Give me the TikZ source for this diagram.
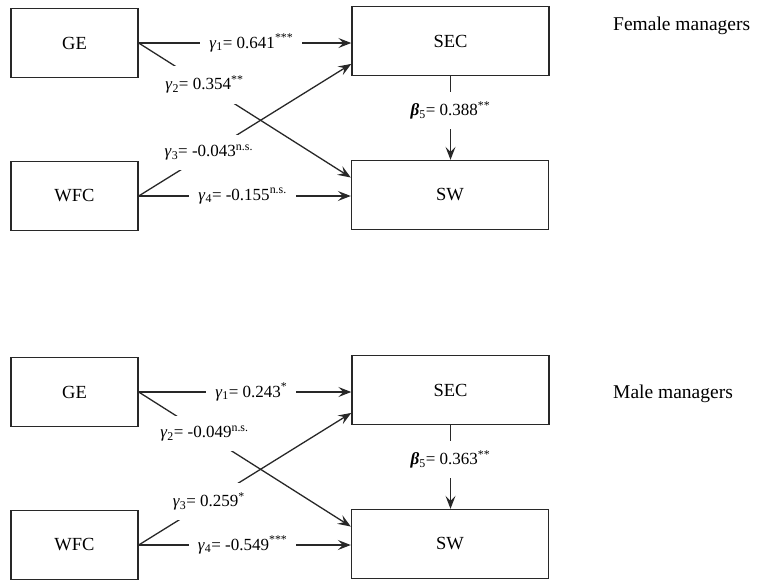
\documentclass[tikz,border=0pt]{standalone}
\usepackage{fontspec}
\setmainfont{Liberation Serif}
\usetikzlibrary{arrows.meta}
\definecolor{inkgray}{RGB}{40,40,40}

\begin{document}
\begin{tikzpicture}[x=1pt,y=-1pt,line cap=butt,
  varbox/.style={draw=inkgray,line width=1.4pt,minimum height=69pt,inner sep=0pt,font=\fontsize{18.5}{21}\selectfont},
  effect/.style={draw=inkgray,line width=1.3pt,-{Stealth[length=13pt,width=10pt,inset=5pt]}},
  coef/.style={fill=white,inner xsep=9pt,inner ysep=10pt,font=\fontsize{17}{20}\selectfont}]
  \useasboundingbox (0,0) rectangle (757,581);
  \foreach \i/\dy/\ty/\grp/\ga/\gb/\gc/\gd/\bt in {
    1/0/30/Female managers/0.641\textsuperscript{***}/0.354\textsuperscript{**}/-0.043\textsuperscript{n.s.}/-0.155\textsuperscript{n.s.}/0.388\textsuperscript{**},
    2/349/398/Male managers/0.243\textsuperscript{*}/-0.049\textsuperscript{n.s.}/0.259\textsuperscript{*}/-0.549\textsuperscript{***}/0.363\textsuperscript{**}}{
    % boxes of one group
    \node[varbox,minimum width=127pt] (GE\i) at (74.5,43+\dy) {GE};
    \node[varbox,minimum width=127pt] (WFC\i) at (74.5,196+\dy) {WFC};
    \node[varbox,minimum width=197pt] (SEC\i) at (450.5,41+\dy) {SEC};
    \node[varbox,minimum width=197pt] (SW\i) at (450,195+\dy) {SW};
    \node[anchor=base west,inner sep=0pt,font=\fontsize{19.5}{22}\selectfont] (title\i) at (613,\ty) {\grp};
    % paths
    \draw[effect] (GE\i.east) -- node[coef,pos=0.53] {\textit{γ}\textsubscript{1}= \ga} (GE\i.east -| SEC\i.west);
    \draw[effect] (GE\i.east) -- node[coef,pos=0.31] {\textit{γ}\textsubscript{2}= \gb} (SW\i.170);
    \draw[effect] (WFC\i.east) -- node[coef,pos=0.33] {\textit{γ}\textsubscript{3}= \gc} (SEC\i.193);
    \draw[effect] (WFC\i.east) -- node[coef,pos=0.49] {\textit{γ}\textsubscript{4}= \gd} (WFC\i.east -| SW\i.west);
    \draw[effect] (SEC\i.south) -- node[coef,pos=0.41] {\textit{\textbf{β}}\textsubscript{5}= \bt} (SEC\i.south |- SW\i.north);
  }
\end{tikzpicture}
\end{document}
